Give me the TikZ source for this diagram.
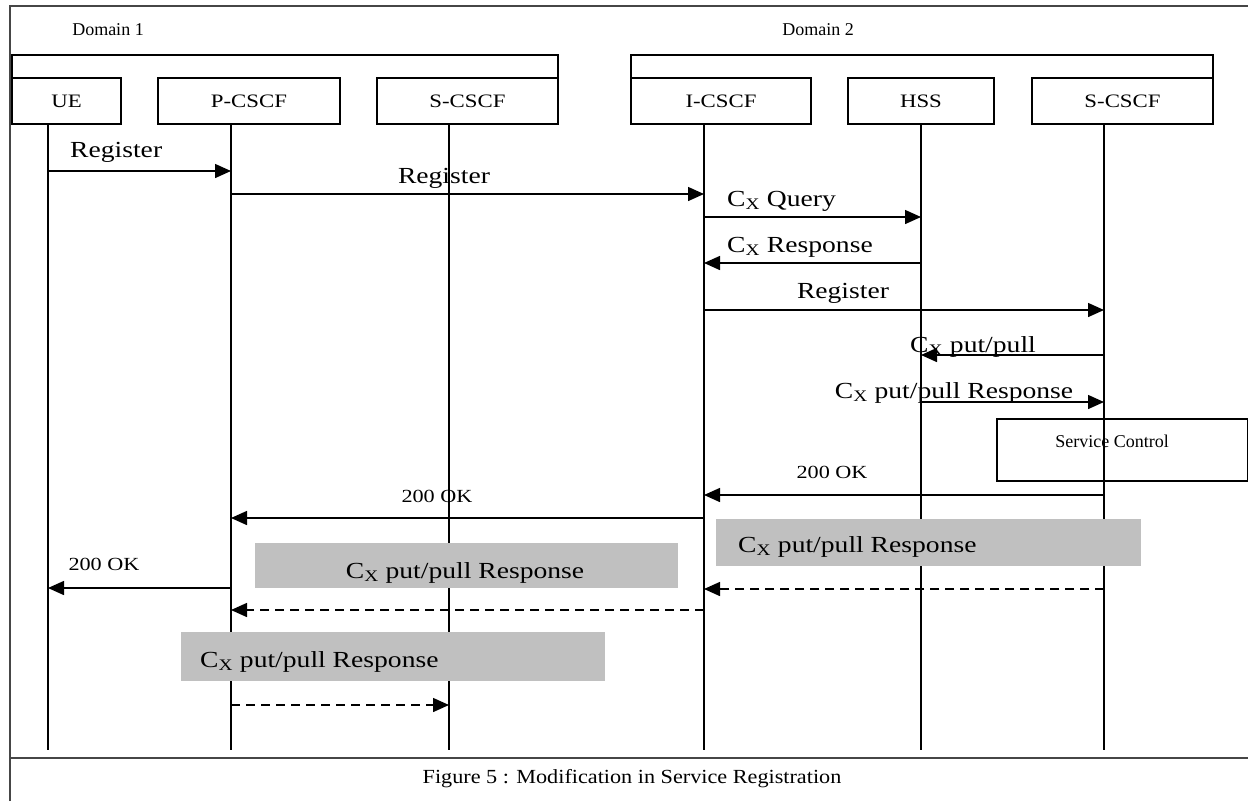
\documentclass[tikz,border=0pt]{standalone}
\usepackage{fontspec}
\setmainfont{Liberation Serif}
\newfontfamily\widefont[FakeStretch=1.2]{Liberation Serif}
\newfontfamily\capfont[FakeStretch=1.11]{Liberation Serif}
\usetikzlibrary{arrows.meta}
\definecolor{grayfill}{RGB}{192,192,192}
\definecolor{framegray}{RGB}{70,70,70}
\tikzset{
  ent/.style={draw, line width=1.5pt, minimum height=46pt, inner sep=0pt, font=\widefont\fontsize{19}{19}\selectfont},
  life/.style={line width=1.3pt},
  msg/.style={line width=1.5pt, -{Triangle[length=16pt,width=14pt]}},
  dmsg/.style={msg, dash pattern=on 9pt off 6pt},
  big/.style={inner sep=0pt, font=\widefont\fontsize{23}{23}\selectfont},
  small/.style={inner sep=0pt, font=\fontsize{18}{18}\selectfont},
  ok/.style={inner sep=0pt, font=\widefont\fontsize{18.5}{18.5}\selectfont},
  graybox/.style={fill=grayfill, draw=none, inner sep=0pt},
  frame/.style={draw=framegray, line width=2.5pt},
}
\newcommand{\Cx}{C\textsubscript{X}}
\begin{document}
\begin{tikzpicture}[x=1pt,y=-1pt]
\useasboundingbox (0,0) rectangle (1248,801);
\fill[white] (0,0) rectangle (1248,801);
% frame
\draw[frame] (10,801) -- (10,6) -- (1248,6);
\draw[frame] (10,758) -- (1248,758);
% domains
\node[small] (d1) at (108,30) {Domain 1};
\node[small] (d2) at (818,30) {Domain 2};
\draw[line width=1.5pt] (12,78) -- (12,55) -- (558,55) -- (558,78);
\draw[line width=1.5pt] (631,78) -- (631,55) -- (1213,55) -- (1213,78);
% entities
\node[ent, minimum width=109pt] (ue) at (66.5,101) {UE};
\node[ent, minimum width=182pt] (pc) at (249,101) {P-CSCF};
\node[ent, minimum width=181pt] (sc1) at (467.5,101) {S-CSCF};
\node[ent, minimum width=180pt] (ic) at (721,101) {I-CSCF};
\node[ent, minimum width=146pt] (hss) at (921,101) {HSS};
\node[ent, minimum width=181pt] (sc2) at (1122.5,101) {S-CSCF};
% lifelines
\coordinate (ueT) at (48,124);   \coordinate (ueB) at (48,750);
\coordinate (pcT) at (231,124);  \coordinate (pcB) at (231,750);
\coordinate (scaT) at (449,124); \coordinate (scaB) at (449,750);
\coordinate (icT) at (704,124);  \coordinate (icB) at (704,750);
\coordinate (hsT) at (921,124);  \coordinate (hsB) at (921,750);
\coordinate (scbT) at (1104,124); \coordinate (scbB) at (1104,750);
\foreach \t/\b in {ueT/ueB,pcT/pcB,scaT/scaB,icT/icB,hsT/hsB,scbT/scbB}
  \draw[life] (\t) -- (\b);
% service control
\node[draw, line width=1.5pt, minimum width=251pt, minimum height=62pt, inner sep=0pt] (svc) at (1122.5,450) {};
\node[small, anchor=base] (svct) at (1112,447) {Service Control};
% gray boxes
\node[graybox, minimum width=425pt, minimum height=47pt] (g1) at (928.5,542.5) {};
\node[big, anchor=base west] (g1t) at (738,552) {\Cx{} put/pull Response};
\node[graybox, minimum width=423pt, minimum height=45pt] (g2) at (466.5,565.5) {};
\node[big, anchor=base] (g2t) at (465,578) {\Cx{} put/pull Response};
\node[graybox, minimum width=424pt, minimum height=49pt] (g3) at (393,656.5) {};
\node[big, anchor=base west] (g3t) at (200,667) {\Cx{} put/pull Response};
% messages
\draw[msg] (ueT |- 0,171) -- (pcT |- 0,171);
\node[big, anchor=base west] (m1) at (70,157) {Register};
\draw[msg] (pcT |- 0,194) -- (icT |- 0,194);
\node[big, anchor=base] (m2) at (444,183) {Register};
\draw[msg] (icT |- 0,217) -- (hsT |- 0,217);
\node[big, anchor=base west] (m3) at (727,206) {\Cx{} Query};
\draw[msg] (hsT |- 0,263) -- (icT |- 0,263);
\node[big, anchor=base west] (m4) at (727,252) {\Cx{} Response};
\draw[msg] (icT |- 0,310) -- (scbT |- 0,310);
\node[big, anchor=base] (m5) at (843,298) {Register};
\draw[msg] (scbT |- 0,355) -- (hsT |- 0,355);
\node[big, anchor=base west] (m6) at (910,352) {\Cx{} put/pull};
\draw[msg] (hsT |- 0,402) -- (scbT |- 0,402);
\node[big, anchor=base] (m7) at (954,398) {\Cx{} put/pull Response};
\draw[msg] (scbT |- 0,495) -- (icT |- 0,495);
\node[ok, anchor=base] (m8) at (832,478) {200 OK};
\draw[msg] (icT |- 0,518) -- (pcT |- 0,518);
\node[ok, anchor=base] (m9) at (437,502) {200 OK};
\draw[msg] (pcT |- 0,588) -- (ueT |- 0,588);
\node[ok, anchor=base] (m10) at (104,570) {200 OK};
\draw[dmsg] (scbT |- 0,589) -- (icT |- 0,589);
\draw[dmsg] (icT |- 0,610) -- (pcT |- 0,610);
\draw[dmsg] (pcT |- 0,705) -- (scaT |- 0,705);
% caption
\node[font=\capfont\fontsize{20}{20}\selectfont, inner sep=0pt] (cap) at (632,779) {Figure 5 : Modification in Service Registration};
\end{tikzpicture}
\end{document}
